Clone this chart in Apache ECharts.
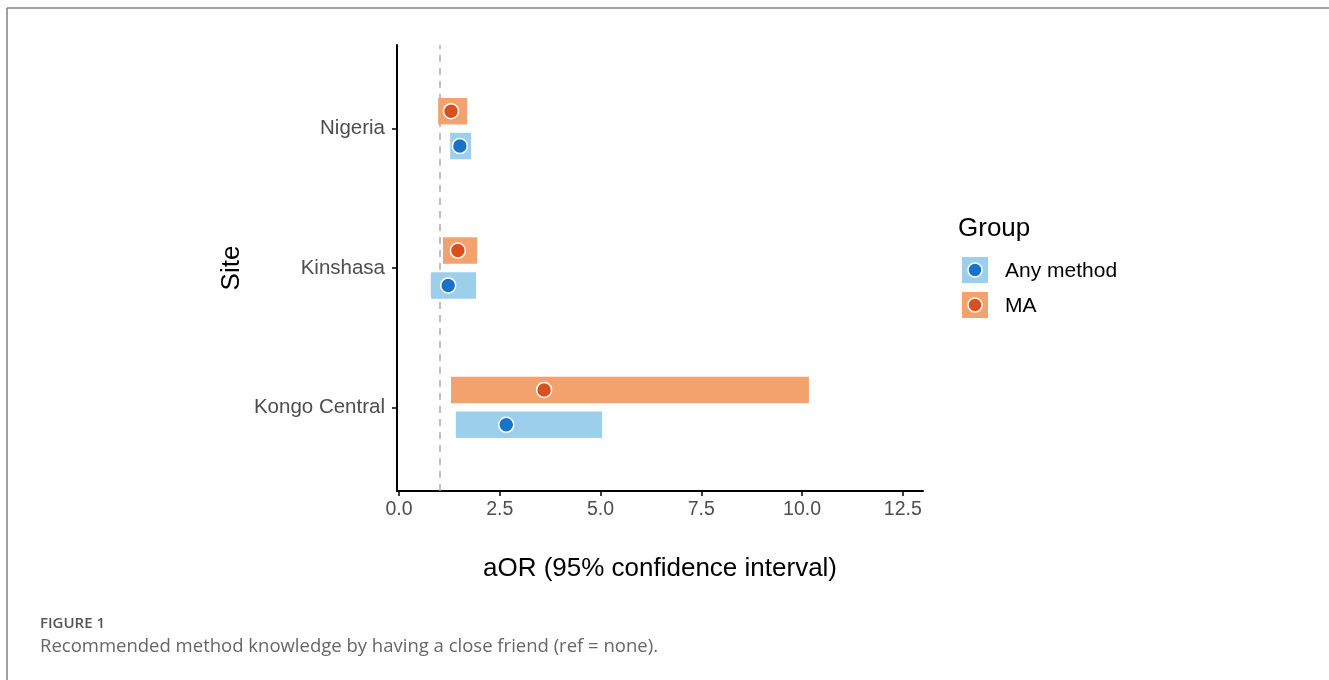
<!DOCTYPE html>
<html lang="en">
<head>
    <meta charset="UTF-8">
    <title>Recommended method knowledge by having a close friend</title>
    <script src="https://cdn.jsdelivr.net/npm/echarts@6.0.0/dist/echarts.min.js"></script>
    <style>
        html, body { margin: 0; padding: 0; background: #fff; }
        #chart { width: 1329px; height: 680px; }
    </style>
</head>
<body>
    <div id="chart"></div>
    <script>
        // sites from bottom to top
        const sites = ['Kongo Central', 'Kinshasa', 'Nigeria'];
        const anyEst  = [2.66, 1.22, 1.51];
        const anyLow  = [1.41, 0.79, 1.27];
        const anyHigh = [5.04, 1.91, 1.79];
        const maEst  = [3.60, 1.46, 1.29];
        const maLow  = [1.29, 1.09, 0.97];
        const maHigh = [10.17, 1.94, 1.69];
        const xTicks = [0, 2.5, 5, 7.5, 10, 12.5];
        const refLine = 1;

        const font = 'Liberation Sans, Arial, sans-serif';
        const colors = {
            anyBar: '#9bcfec', anyDot: '#1673c8',
            maBar: '#f4a26d', maDot: '#d9501f'
        };
        const dodge = 0.125, barH = 0.19;

        function barSeries(name, low, high, off, color) {
            return {
                name: name,
                type: 'custom',
                renderItem: function (params, api) {
                    const y = api.value(2) + off;
                    const p1 = api.coord([api.value(0), y + barH / 2]);
                    const p2 = api.coord([api.value(1), y - barH / 2]);
                    return {
                        type: 'rect',
                        shape: { x: p1[0], y: p1[1], width: p2[0] - p1[0], height: p2[1] - p1[1] },
                        style: { fill: color }
                    };
                },
                encode: { x: [0, 1], y: 2 },
                data: low.map((v, i) => [v, high[i], i]),
                z: 2
            };
        }

        function dotSeries(name, est, off, color) {
            return {
                name: name,
                type: 'scatter',
                symbolSize: 15,
                itemStyle: { color: color, borderColor: '#fff', borderWidth: 1.5, opacity: 1 },
                data: est.map((v, i) => [v, i + off]),
                z: 3
            };
        }

        const chart = echarts.init(document.getElementById('chart'));
        chart.setOption({
            animation: false,
            grid: { left: 397, top: 45, width: 526, height: 446 },
            xAxis: {
                type: 'value',
                min: -0.05, max: 13.0,
                name: 'aOR (95% confidence interval)',
                nameLocation: 'middle',
                nameGap: 65,
                nameTextStyle: { fontFamily: font, fontSize: 26, color: '#000' },
                axisLine: { onZero: false, lineStyle: { color: '#000', width: 2 } },
                axisTick: { customValues: xTicks, length: 5, lineStyle: { color: '#000', width: 1.5 } },
                axisLabel: {
                    customValues: xTicks,
                    formatter: v => v.toFixed(1),
                    fontFamily: font, fontSize: 19.5, color: '#4d4d4d', margin: 9
                },
                splitLine: { show: false }
            },
            yAxis: {
                type: 'value',
                min: -0.6, max: 2.6,
                name: 'Site',
                nameLocation: 'middle',
                nameRotate: 90,
                nameGap: 152,
                nameTextStyle: { fontFamily: font, fontSize: 26, color: '#000' },
                axisLine: { show: true, onZero: false, lineStyle: { color: '#000', width: 2 } },
                axisTick: { show: true, customValues: [0, 1, 2], length: 5, lineStyle: { color: '#000', width: 1.5 } },
                axisLabel: {
                    customValues: [0, 1, 2],
                    formatter: v => sites[Math.round(v)],
                    fontFamily: font, fontSize: 20.5, color: '#4d4d4d', margin: 12
                },
                splitLine: { show: false }
            },
            series: [
                barSeries('MA', maLow, maHigh, dodge, colors.maBar),
                barSeries('Any method', anyLow, anyHigh, -dodge, colors.anyBar),
                dotSeries('MA', maEst, dodge, colors.maDot),
                {
                    ...dotSeries('Any method', anyEst, -dodge, colors.anyDot),
                    markLine: {
                        silent: true,
                        symbol: 'none',
                        label: { show: false },
                        lineStyle: { color: '#aaaaaa', type: [7, 6], width: 1.5 },
                        data: [{ xAxis: refLine }],
                        z: 1
                    }
                }
            ],
            graphic: [
                // figure frame
                { type: 'line', shape: { x1: 7, y1: 8, x2: 1329, y2: 8 }, style: { stroke: '#808080', lineWidth: 1.5 } },
                { type: 'line', shape: { x1: 7, y1: 8, x2: 7, y2: 680 }, style: { stroke: '#808080', lineWidth: 1.5 } },
                // legend
                { type: 'text', x: 958, y: 229, style: { text: 'Group', font: '26px ' + font, fill: '#000', verticalAlign: 'middle' } },
                { type: 'rect', shape: { x: 962, y: 257, width: 26, height: 26 }, style: { fill: colors.anyBar } },
                { type: 'circle', shape: { cx: 975, cy: 270, r: 7 }, style: { fill: colors.anyDot, stroke: '#fff', lineWidth: 1.5 } },
                { type: 'text', x: 1005, y: 271, style: { text: 'Any method', font: '21px ' + font, fill: '#000', verticalAlign: 'middle' } },
                { type: 'rect', shape: { x: 962, y: 292, width: 26, height: 26 }, style: { fill: colors.maBar } },
                { type: 'circle', shape: { cx: 975, cy: 305, r: 7 }, style: { fill: colors.maDot, stroke: '#fff', lineWidth: 1.5 } },
                { type: 'text', x: 1005, y: 306, style: { text: 'MA', font: '21px ' + font, fill: '#000', verticalAlign: 'middle' } },
                // caption
                { type: 'text', x: 40, y: 624, style: { text: 'FIGURE 1', font: '600 15px "Open Sans", sans-serif', fill: '#555', verticalAlign: 'middle' } },
                { type: 'text', x: 40, y: 647, style: { text: 'Recommended method knowledge by having a close friend (ref = none).', font: '18.5px "Open Sans", sans-serif', fill: '#666', verticalAlign: 'middle' } }
            ]
        });
    </script>
</body>
</html>
